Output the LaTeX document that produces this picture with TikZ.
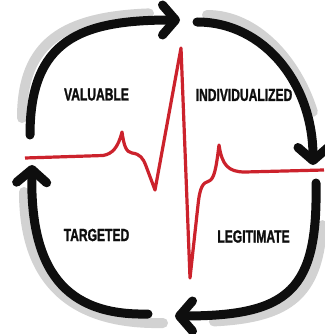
\documentclass[tikz,border=0pt]{standalone}
\usepackage{fontspec}
\setmainfont{Liberation Sans}[FakeStretch=0.69, BoldFeatures={FakeBold=1.3}]
\usetikzlibrary{arrows.meta}
\definecolor{ecgred}{RGB}{204,34,44}
\definecolor{shadowgray}{RGB}{210,210,210}
\definecolor{inkblack}{RGB}{14,14,14}
\begin{document}
\begin{tikzpicture}[x=1pt,y=-1pt,
  cycarrow/.style={line width=9pt, draw=inkblack, line cap=round,
    -{Straight Barb[length=13pt,width=30pt,round]}},
  shadowarc/.style={line width=10pt, draw=shadowgray, line cap=round},
  ecg/.style={line width=3.2pt, draw=ecgred, line join=round},
  lbl/.style={font=\fontsize{17.5}{18}\selectfont\bfseries, text=inkblack, inner sep=0pt}]
\useasboundingbox (0,0) rectangle (324,334);
\fill[white] (0,0) rectangle (324,334);
% named end points of the four cycle arrows
\coordinate (s1) at (30,135);  \coordinate (t1) at (180,20);
\coordinate (s2) at (197,22);  \coordinate (t2) at (313,165);
\coordinate (s3) at (316,183); \coordinate (t3) at (175,316);
\coordinate (s4) at (148,314); \coordinate (t4) at (32,165);
% grey shadows
\draw[shadowarc] (22,118) .. controls (22,42) and (64,16.7) .. (149,13.4);
\draw[shadowarc] (207,15) .. controls (256.4,15) and (296.9,60.7) .. (312.8,111.8);
\draw[shadowarc] (322.3,225.1) .. controls (317.6,294) and (290.5,317.6) .. (213.9,321.4);
\draw[shadowarc] (163,323) .. controls (70,325) and (24,280) .. (24,192);
% black cycle arrows
\draw[cycarrow] (s1) .. controls (30,40) and (80,20) .. (t1);
\draw[cycarrow] (s2) .. controls (265,22) and (313,85) .. (t2);
\draw[cycarrow] (s3) .. controls (318,290) and (290,316) .. (t3);
\draw[cycarrow] (s4) .. controls (65,316) and (30,270) .. (t4);
% heartbeat trace
\draw[ecg] (25,158) -- (103,155.5) .. controls (112,154) and (118,148) .. (122,132)
  .. controls (124,146) and (126,152) .. (132,153)
  .. controls (140,154) and (143,158) .. (146,166) -- (155,190) -- (181,48) -- (190,278)
  -- (198,205) .. controls (200,186) and (203,183) .. (209,181)
  .. controls (214,179) and (216,170) .. (219,145)
  .. controls (222,165) and (228,172) .. (245,172) -- (324,170);
% labels
\node[lbl] (valuable) at (96.5,94.5) {VALUABLE};
\node[lbl] (individualized) at (244,95) {INDIVIDUALIZED};
\node[lbl] (targeted) at (96.5,235) {TARGETED};
\node[lbl] (legitimate) at (253.5,236.5) {LEGITIMATE};
\end{tikzpicture}
\end{document}
